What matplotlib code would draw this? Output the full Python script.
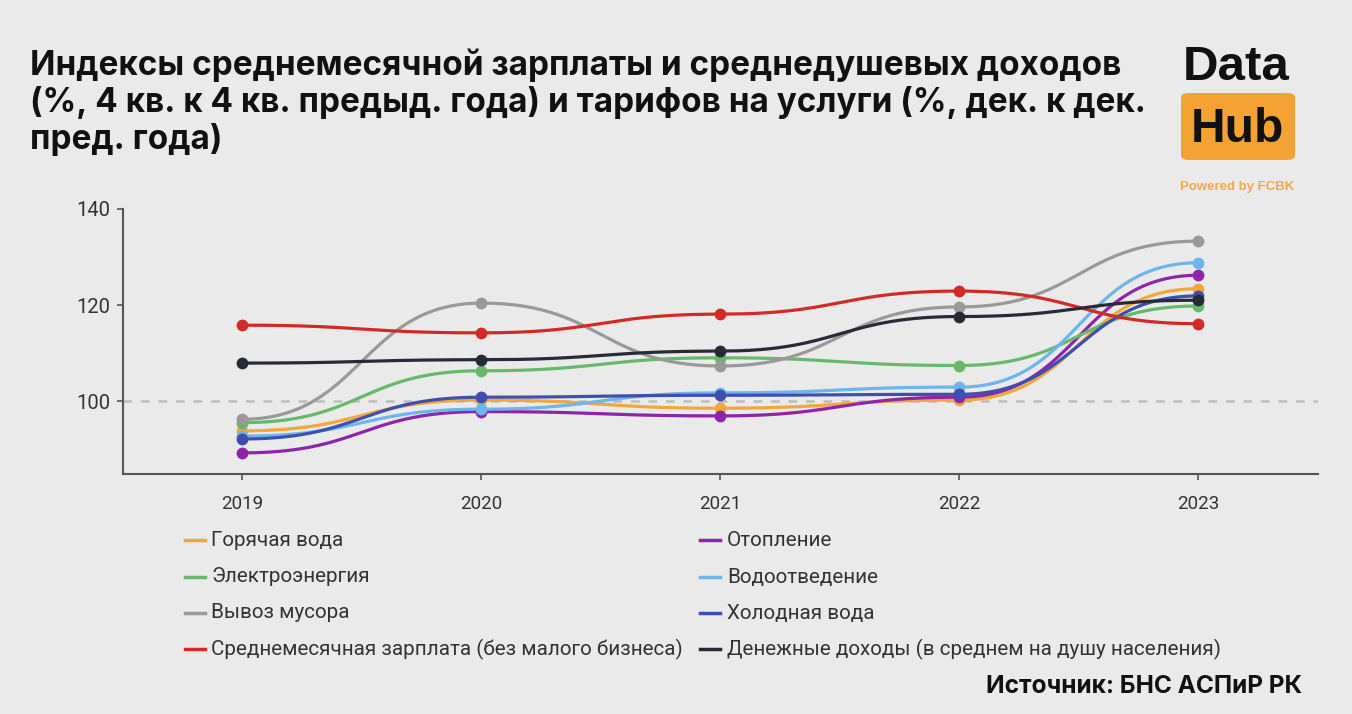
import numpy as np
import matplotlib
matplotlib.use("Agg")
import matplotlib.pyplot as plt
from matplotlib.lines import Line2D
from matplotlib.patches import FancyBboxPatch

# ---------------- data ----------------
years = [2019, 2020, 2021, 2022, 2023]
hot_water   = [93.8, 100.2, 98.5, 100.2, 123.4]
heating     = [89.2, 97.8, 96.9, 100.8, 126.2]
electricity = [95.5, 106.3, 109.0, 107.4, 119.8]
drainage    = [92.7, 98.3, 101.7, 102.9, 128.8]
garbage     = [96.2, 120.4, 107.3, 119.6, 133.3]
cold_water  = [92.1, 100.8, 101.2, 101.4, 121.9]
salary      = [115.8, 114.2, 118.1, 122.9, 116.1]
income      = [107.9, 108.6, 110.4, 117.6, 121.0]

labels = ["Горячая вода", "Отопление", "Электроэнергия", "Водоотведение",
          "Вывоз мусора", "Холодная вода",
          "Среднемесячная зарплата (без малого бизнеса)",
          "Денежные доходы (в среднем на душу населения)"]
series = [hot_water, heating, electricity, drainage, garbage, cold_water, salary, income]
colors = ["#F2A73A", "#8E24AA", "#66B86A", "#6DB5EC", "#999999", "#3F4FB0", "#D22A26", "#272B36"]

y_ticks = [100, 120, 140]
title_lines = ["Индексы среднемесячной зарплаты и среднедушевых доходов",
               "(%, 4 кв. к 4 кв. предыд. года) и тарифов на услуги (%, дек. к дек.",
               "пред. года)"]
source = "Источник: БНС АСПиР РК"

BG = "#EAEAEA"
W, H = 1352, 714


def bump_x(xs, ys, n=60):
    """Horizontal-tangent bezier curve through points (like d3.curveBumpX)."""
    px, py = [xs[0]], [ys[0]]
    t = np.linspace(0, 1, n)[1:]
    for i in range(len(xs) - 1):
        x0, x1, y0, y1 = xs[i], xs[i + 1], ys[i], ys[i + 1]
        xm = (x0 + x1) / 2
        bx = (1 - t) ** 3 * x0 + 3 * (1 - t) ** 2 * t * xm + 3 * (1 - t) * t ** 2 * xm + t ** 3 * x1
        by = y0 + (y1 - y0) * (3 * t ** 2 - 2 * t ** 3)
        px.extend(bx)
        py.extend(by)
    return np.array(px), np.array(py)


fig = plt.figure(figsize=(W / 100, H / 100), dpi=100, facecolor=BG)
renderer = fig.canvas.get_renderer()


def fit(txt, target_px):
    """Scale a text's font size so that its rendered width matches target_px."""
    for _ in range(3):
        w = txt.get_window_extent(renderer=renderer).width
        txt.set_fontsize(txt.get_fontsize() * target_px / w)


ax = fig.add_axes([123 / W, 1 - 474 / H, (1318 - 123) / W, (474 - 209) / H])
ax.set_facecolor(BG)
ax.set_xlim(2018.5, 2023.5)
ax.set_ylim(84.8, 140)

ax.axhline(100, color="#BDBDBD", lw=1.8, ls=(0, (3.5, 3.5)), zorder=1)

for s, c in zip(series, colors):
    cx, cy = bump_x(years, s)
    ax.plot(cx, cy, color=c, lw=2.3, zorder=3, solid_capstyle="round")
    ax.plot(years, s, "o", color=c, ms=8.5, zorder=4, mec="none")

for sp in ["top", "right"]:
    ax.spines[sp].set_visible(False)
for sp in ["left", "bottom"]:
    ax.spines[sp].set_color("#555555")
    ax.spines[sp].set_linewidth(1.5)

ax.set_xticks(years)
ax.set_xticklabels([str(y) for y in years])
ax.set_yticks(y_ticks)
ax.set_yticklabels([str(v) for v in y_ticks])
ax.tick_params(axis="both", colors="#555555", length=4, width=1.2, labelcolor="#333333")
ax.tick_params(axis="x", pad=11)
ax.tick_params(axis="y", pad=5)
for lab in ax.get_xticklabels():
    lab.set_fontfamily("Roboto")
    lab.set_fontsize(13.5)
for lab in ax.get_yticklabels():
    lab.set_fontfamily("Roboto")
    lab.set_fontsize(14.5)

# ---------------- title ----------------
baselines = [75, 112, 149]
title_texts = []
for line, b in zip(title_lines, baselines):
    t = fig.text(30 / W, 1 - b / H, line, fontsize=20, fontweight="bold",
                 family="Inter", color="#111111", va="baseline", ha="left")
    title_texts.append(t)
fit(title_texts[0], 1090)
for t in title_texts[1:]:
    t.set_fontsize(title_texts[0].get_fontsize())

# ---------------- legend (manual) ----------------
rows = [540, 577, 613, 649]
col_x = [(185, 205, 211), (700, 720, 727)]
order = [[0, 2, 4, 6], [1, 3, 5, 7]]
leg_texts = {}
for ci, (lx0, lx1, tx) in enumerate(col_x):
    for ri, idx in enumerate(order[ci]):
        yy = 1 - rows[ri] / H
        fig.add_artist(Line2D([lx0 / W, lx1 / W], [yy, yy], color=colors[idx], lw=2.5,
                              transform=fig.transFigure))
        leg_texts[idx] = fig.text(tx / W, yy, labels[idx], fontsize=14.5, family="Roboto",
                                  color="#333333", va="center", ha="left")
fit(leg_texts[6], 472)
for t in leg_texts.values():
    t.set_fontsize(leg_texts[6].get_fontsize())

# ---------------- source ----------------
src = fig.text(1302 / W, 1 - 693 / H, source, fontsize=17, fontweight="bold",
               family="Inter", color="#111111", ha="right", va="baseline")
fit(src, 317)

# ---------------- logo ----------------
dt = fig.text(1236 / W, 1 - 80 / H, "Data", fontsize=36, fontweight="bold",
              family="Liberation Sans", color="#111111", ha="center", va="baseline")
fit(dt, 107)
box = FancyBboxPatch((1181 / W, 1 - 160 / H), (1295 - 1181) / W, (160 - 93) / H,
                     boxstyle="round,pad=0,rounding_size=0.006", transform=fig.transFigure,
                     facecolor="#F5A235", edgecolor="none")
fig.add_artist(box)
hb = fig.text(1237 / W, 1 - 142 / H, "Hub", fontsize=34, fontweight="bold",
              family="Liberation Sans", color="#111111", ha="center", va="baseline")
fit(hb, 93)
pw = fig.text(1237 / W, 1 - 187 / H, "Powered by FCBK", fontsize=9.5, fontweight="bold",
              family="Liberation Sans", color="#F2A94A", ha="center", va="center")
fit(pw, 115)

fig.savefig("out.png", dpi=100, facecolor=BG)
